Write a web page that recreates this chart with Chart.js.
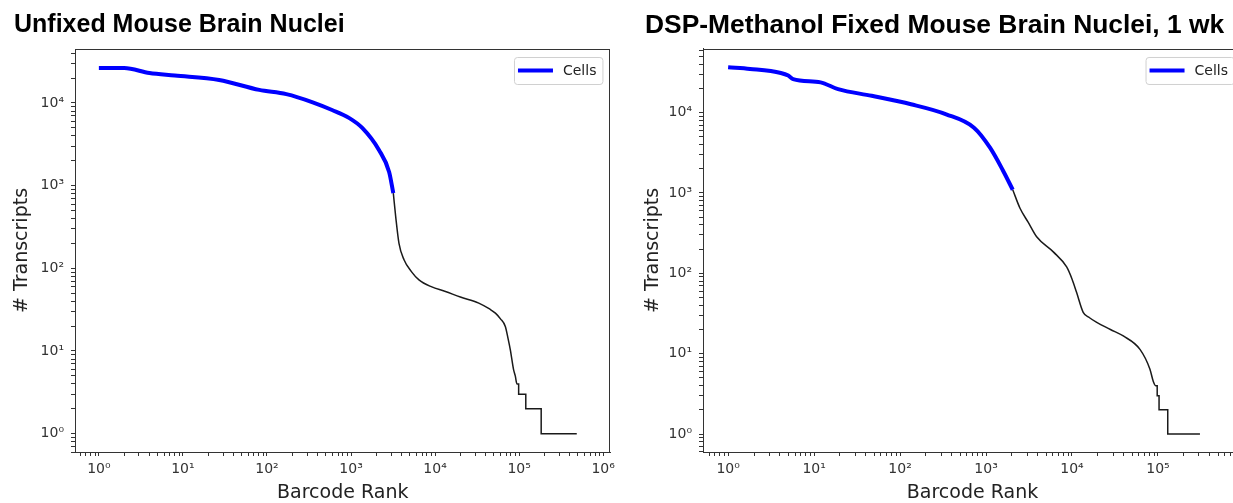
<!DOCTYPE html>
<html>
<head>
<meta charset="utf-8">
<script src="https://cdn.jsdelivr.net/npm/chart.js@4.4.1/dist/chart.umd.min.js"></script>
<style>
  html, body { margin: 0; padding: 0; background: #fff; overflow: hidden; }
  body { width: 1233px; height: 503px; position: relative; }
  canvas { position: absolute; top: 0; }
  #leftChart { left: 0; }
  #rightChart { left: 630px; }
</style>
</head>
<body>
<canvas id="leftChart" width="620" height="503"></canvas>
<canvas id="rightChart" width="620" height="503"></canvas>
<script>
// unfixed nuclei: cell barcodes (blue) and the rest (black)
const unfixedCellRank = [1, 2, 4, 8, 27, 81, 170, 350, 595, 945, 1360, 2150, 2840, 3185];
const unfixedCellUmi = [26500, 26500, 23000, 21500, 19000, 14400, 12800, 10200, 8230, 6600, 4990, 2700, 1466, 811];
const unfixedBgRank = [3185, 3400, 3720, 4270, 5200, 6430, 9000, 13300, 20000, 33100, 45000, 52200, 60000, 68500, 74000, 78500, 86000, 90000, 94000, 98700, 98700, 120000, 120000, 183000, 183000, 485000, 485000];
const unfixedBgUmi = [811, 423, 201, 127, 92, 72.6, 60, 52.4, 45, 38, 32, 28.7, 24.5, 19.8, 14, 10.4, 5.9, 5, 4, 4, 3, 3, 2, 2, 1, 1, 0];

// DSP-methanol fixed nuclei
const fixedCellRank = [1, 1.8, 4.1, 5, 5.7, 11.9, 19, 46.7, 134, 344, 724, 1113, 1590, 2045];
const fixedCellUmi = [36700, 35000, 31200, 29000, 26200, 23800, 19600, 16200, 12700, 9530, 6490, 3660, 1866, 1097];
const fixedBgRank = [2045, 2485, 3100, 3880, 6060, 8670, 10000, 11300, 13500, 16000, 19400, 28000, 39500, 61800, 80700, 88300, 94000, 98000, 98000, 103000, 103000, 130000, 130000, 308000, 308000];
const fixedBgUmi = [1097, 646, 430, 285, 185, 120, 85, 58, 32.7, 28, 24.5, 20, 16.6, 11.3, 6.4, 4.5, 4, 4, 3, 3, 2, 2, 1, 1, 0];

// axis limits
const unfixedX = [0.52, 1.22e6];
const unfixedY = [0.606, 45000];
const fixedX = [0.51, 9.5e5];
const fixedY = [0.597, 62000];

const sup = { "0": "⁰", "1": "¹", "2": "²", "3": "³", "4": "⁴", "5": "⁵", "6": "⁶", "-": "⁻" };

function toPoints(xs, ys) {
  return xs.map((x, i) => ({ x: x, y: ys[i] }));
}

// ticks at 1..9 x 10^n, label only the powers of ten
function logTicks(scale) {
  const ticks = [];
  const lo = Math.floor(Math.log10(scale.min));
  const hi = Math.ceil(Math.log10(scale.max));
  for (let e = lo; e <= hi; e++) {
    for (let m = 1; m <= 9; m++) {
      const v = m * Math.pow(10, e);
      if (v >= scale.min && v <= scale.max) ticks.push({ value: v });
    }
  }
  scale.ticks = ticks;
}

function powLabel(value) {
  const e = Math.round(Math.log10(value));
  if (Math.abs(value - Math.pow(10, e)) / value > 1e-6) return "";
  return "10" + String(e).split("").map(c => sup[c]).join("");
}

// top/right spines + matplotlib style legend box
const mplFrame = {
  id: "mplFrame",
  afterDraw(chart) {
    const ctx = chart.ctx;
    const a = chart.chartArea;
    ctx.save();
    ctx.strokeStyle = "#333";
    ctx.lineWidth = 1;
    ctx.strokeRect(Math.round(a.left) + 0.5, Math.round(a.top) + 0.5, Math.round(a.width) - 1, Math.round(a.height));

    const ds = chart.data.datasets[0];
    ctx.font = '14px "DejaVu Sans"';
    const tw = ctx.measureText(ds.label).width;
    const bw = 4 + 35 + 10 + tw + 6;
    const bh = 27;
    const bx = a.right - 8 - bw;
    const by = a.top + 8;
    ctx.beginPath();
    ctx.roundRect(bx + 0.5, by + 0.5, bw, bh, 3);
    ctx.fillStyle = "rgba(255,255,255,0.8)";
    ctx.fill();
    ctx.strokeStyle = "#d0d0d0";
    ctx.stroke();
    ctx.beginPath();
    ctx.moveTo(bx + 4, by + bh / 2);
    ctx.lineTo(bx + 39, by + bh / 2);
    ctx.strokeStyle = ds.borderColor;
    ctx.lineWidth = ds.borderWidth;
    ctx.stroke();
    ctx.fillStyle = "#222";
    ctx.textBaseline = "middle";
    ctx.fillText(ds.label, bx + 49, by + bh / 2 + 1);
    ctx.restore();
  }
};

function makeChart(id, title, titleSize, titlePad, cellRank, cellUmi, bgRank, bgUmi, xLim, yLim, padLeft, yWidth) {
  return new Chart(document.getElementById(id), {
    type: "line",
    data: {
      datasets: [
        {
          label: "Cells",
          data: toPoints(cellRank, cellUmi),
          borderColor: "#0000ff",
          borderWidth: 4,
          pointRadius: 0,
          cubicInterpolationMode: "monotone"
        },
        {
          label: "Background",
          data: toPoints(bgRank, bgUmi),
          borderColor: "#1a1a1a",
          borderWidth: 1.5,
          pointRadius: 0,
          cubicInterpolationMode: "monotone"
        }
      ]
    },
    options: {
      responsive: false,
      animation: false,
      events: [],
      layout: { padding: { left: padLeft, right: 8, top: 0, bottom: 0 } },
      plugins: {
        legend: { display: false },
        tooltip: { enabled: false },
        title: {
          display: true,
          text: title,
          align: "start",
          color: "#000",
          font: { family: "Liberation Sans", size: titleSize, weight: "bold" },
          padding: titlePad
        }
      },
      scales: {
        x: {
          type: "logarithmic",
          min: xLim[0],
          max: xLim[1],
          afterBuildTicks: logTicks,
          afterFit: s => { s.height = 51; },
          ticks: {
            autoSkip: false,
            maxRotation: 0,
            padding: 5,
            color: "#333",
            font: { family: "DejaVu Sans", size: 14 },
            callback: powLabel
          },
          grid: { drawOnChartArea: false, tickLength: 4, tickColor: "#333" },
          border: { color: "#333", width: 1 },
          title: {
            display: true,
            text: "Barcode Rank",
            color: "#222",
            font: { family: "DejaVu Sans", size: 19, lineHeight: 1 },
            padding: 0
          }
        },
        y: {
          type: "logarithmic",
          min: yLim[0],
          max: yLim[1],
          afterBuildTicks: logTicks,
          afterFit: s => { s.width = yWidth; },
          ticks: {
            autoSkip: false,
            padding: 7,
            color: "#333",
            font: { family: "DejaVu Sans", size: 14 },
            callback: powLabel
          },
          grid: { drawOnChartArea: false, tickLength: 4, tickColor: "#333" },
          border: { color: "#333", width: 1 },
          title: {
            display: true,
            text: "# Transcripts",
            color: "#222",
            font: { family: "DejaVu Sans", size: 19, lineHeight: 0.8 },
            padding: 0
          }
        }
      }
    },
    plugins: [mplFrame]
  });
}

makeChart("leftChart", "Unfixed Mouse Brain Nuclei", 25, { top: 10.5, bottom: 8.5 },
  unfixedCellRank, unfixedCellUmi, unfixedBgRank, unfixedBgUmi, unfixedX, unfixedY, 14, 61);
makeChart("rightChart", "DSP-Methanol Fixed Mouse Brain Nuclei, 1 wk", 26.4, { top: 9.7, bottom: 7.6 },
  fixedCellRank, fixedCellUmi, fixedBgRank, fixedBgUmi, fixedX, fixedY, 15, 58);
</script>
</body>
</html>
